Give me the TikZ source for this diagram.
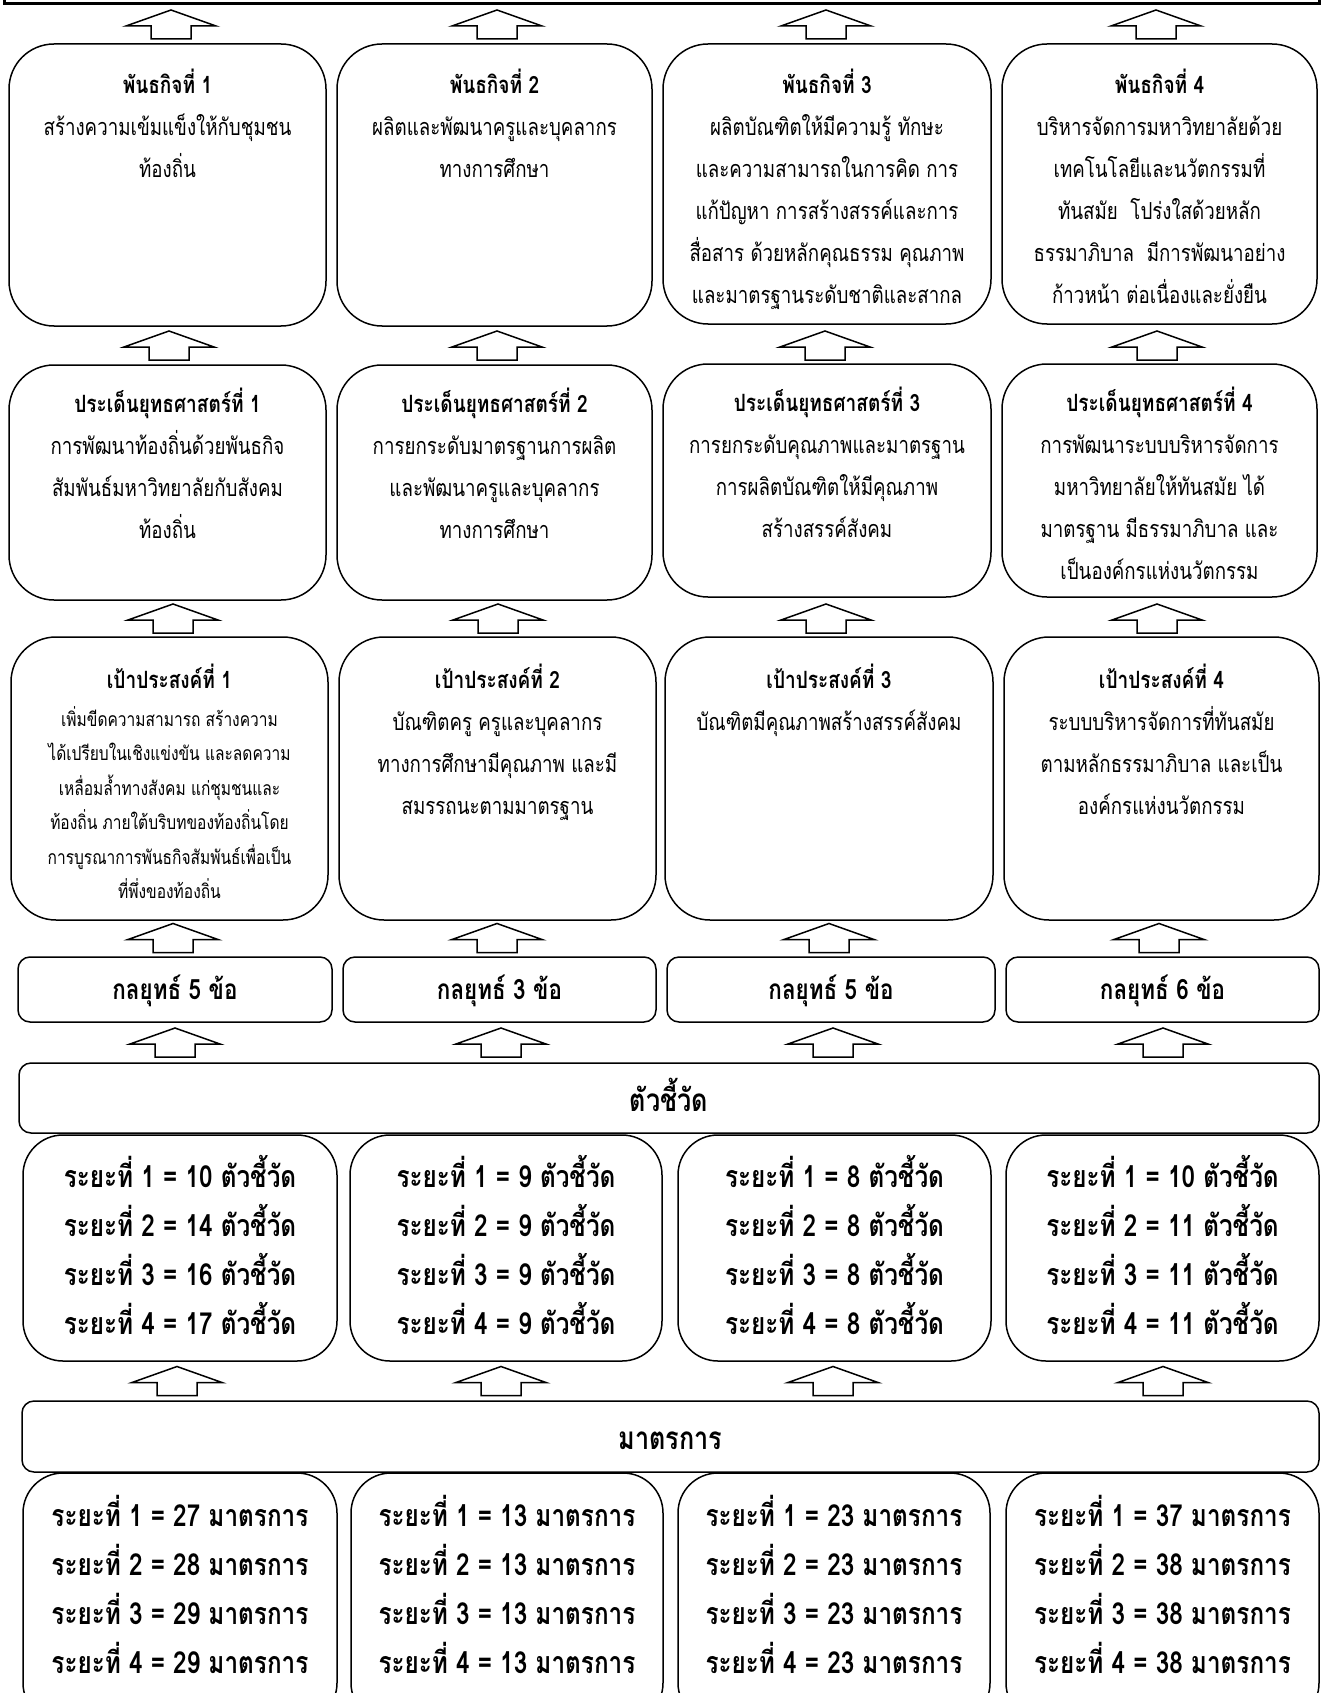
\documentclass[tikz,border=0pt]{standalone}
\usepackage{fontspec}
\setmainfont[Script=Thai, FakeStretch=0.8]{Loma}
\usetikzlibrary{calc}
\newcommand{\bt}[5]{\parbox[c][#2pt][t]{#1pt}{\centering#4\rule{0pt}{#3pt}\ignorespaces#5\par}}
\tikzset{
  bigbox/.style={draw, line width=1.5pt, rounded corners=45pt, inner sep=0pt, outer sep=0pt, anchor=north west},
  midbox/.style={draw, line width=1.5pt, rounded corners=40pt, inner sep=0pt, outer sep=0pt, anchor=north west},
  smallbox/.style={draw, line width=1.5pt, rounded corners=12pt, inner sep=0pt, outer sep=0pt, anchor=north west},
  uparr/.pic={\draw[line width=1.5pt, line join=miter, fill=white]
     (0,-14.5) -- (45,1.5) -- (20,1.5) -- (20,14.5) -- (-20,14.5) -- (-20,1.5) -- (-45,1.5) -- cycle;}
}
\newcommand{\bodyf}{\fontsize{23.4}{42}\selectfont}
\newcommand{\ttl}[1]{{\fontsize{23.8}{42}\selectfont\bfseries #1}}
\newcommand{\smallf}{\fontsize{19.4}{34.5}\selectfont}
\newcommand{\bigf}{\fontsize{30.4}{49}\selectfont\bfseries}
\newcommand{\kf}{\fontsize{28}{40}\selectfont\bfseries}
\newcommand{\banf}{\fontsize{31.5}{40}\selectfont\bfseries}
\begin{document}
\begin{tikzpicture}[x=1pt,y=-1pt]
\useasboundingbox (0,0) rectangle (1320,1693);
% top frame
\node[draw, line width=2.5pt, inner sep=0pt, minimum width=1315pt, minimum height=60pt, anchor=south west] (top) at (3,5) {};
% row 1: missions
\node[bigbox] (m1) at (9,44) {\bt{317}{282}{50}{\bodyf}{\ttl{พันธกิจที่ 1}\\สร้างความเข้มแข็งให้กับชุมชน\\ท้องถิ่น}};
\node[bigbox] (m2) at (337,44) {\bt{315}{282}{50}{\bodyf}{\ttl{พันธกิจที่ 2}\\ผลิตและพัฒนาครูและบุคลากร\\ทางการศึกษา}};
\node[bigbox] (m3) at (663,44) {\bt{328}{280}{50}{\bodyf}{\ttl{พันธกิจที่ 3}\\ผลิตบัณฑิตให้มีความรู้ ทักษะ\\และความสามารถในการคิด การ\\แก้ปัญหา การสร้างสรรค์และการ\\สื่อสาร ด้วยหลักคุณธรรม คุณภาพ\\และมาตรฐานระดับชาติและสากล}};
\node[bigbox] (m4) at (1002,44) {\bt{315}{280}{50}{\bodyf}{\ttl{พันธกิจที่ 4}\\บริหารจัดการมหาวิทยาลัยด้วย\\เทคโนโลยีและนวัตกรรมที่\\ทันสมัย~~โปร่งใสด้วยหลัก\\ธรรมาภิบาล~~มีการพัฒนาอย่าง\\ก้าวหน้า ต่อเนื่องและยั่งยืน}};
% row 2: strategic issues
\node[bigbox] (s1) at (9,365) {\bt{317}{235}{47.5}{\bodyf}{\ttl{ประเด็นยุทธศาสตร์ที่ 1}\\การพัฒนาท้องถิ่นด้วยพันธกิจ\\สัมพันธ์มหาวิทยาลัยกับสังคม\\ท้องถิ่น}};
\node[bigbox] (s2) at (337,365) {\bt{315}{235}{47.5}{\bodyf}{\ttl{ประเด็นยุทธศาสตร์ที่ 2}\\การยกระดับมาตรฐานการผลิต\\และพัฒนาครูและบุคลากร\\ทางการศึกษา}};
\node[bigbox] (s3) at (663,364) {\bt{328}{233}{47.5}{\bodyf}{\ttl{ประเด็นยุทธศาสตร์ที่ 3}\\การยกระดับคุณภาพและมาตรฐาน\\การผลิตบัณฑิตให้มีคุณภาพ\\สร้างสรรค์สังคม}};
\node[bigbox] (s4) at (1002,364) {\bt{315}{233}{47.5}{\bodyf}{\ttl{ประเด็นยุทธศาสตร์ที่ 4}\\การพัฒนาระบบบริหารจัดการ\\มหาวิทยาลัยให้ทันสมัย ได้\\มาตรฐาน มีธรรมาภิบาล และ\\เป็นองค์กรแห่งนวัตกรรม}};
% row 3: goals
\node[bigbox] (g1) at (11,637) {\bt{317}{283}{51.5}{\bodyf}{\ttl{เป้าประสงค์ที่ 1}\par\vspace{3pt}\smallf เพิ่มขีดความสามารถ สร้างความ\\ได้เปรียบในเชิงแข่งขัน และลดความ\\เหลื่อมล้ำทางสังคม แก่ชุมชนและ\\ท้องถิ่น ภายใต้บริบทของท้องถิ่นโดย\\การบูรณาการพันธกิจสัมพันธ์เพื่อเป็น\\ที่พึ่งของท้องถิ่น}};
\node[bigbox] (g2) at (339,637) {\bt{317}{283}{51.5}{\bodyf}{\ttl{เป้าประสงค์ที่ 2}\\บัณฑิตครู ครูและบุคลากร\\ทางการศึกษามีคุณภาพ และมี\\สมรรถนะตามมาตรฐาน}};
\node[bigbox] (g3) at (665,637) {\bt{328}{283}{51.5}{\bodyf}{\ttl{เป้าประสงค์ที่ 3}\\บัณฑิตมีคุณภาพสร้างสรรค์สังคม}};
\node[bigbox] (g4) at (1004,637) {\bt{315}{283}{51.5}{\bodyf}{\ttl{เป้าประสงค์ที่ 4}\\ระบบบริหารจัดการที่ทันสมัย\\ตามหลักธรรมาภิบาล และเป็น\\องค์กรแห่งนวัตกรรม}};
% row 4: strategies
\node[smallbox] (k1) at (18,957) {\bt{314}{65}{42.5}{\kf}{กลยุทธ์ 5 ข้อ}};
\node[smallbox] (k2) at (343,957) {\bt{313}{65}{42.5}{\kf}{กลยุทธ์ 3 ข้อ}};
\node[smallbox] (k3) at (667,957) {\bt{328}{65}{42.5}{\kf}{กลยุทธ์ 5 ข้อ}};
\node[smallbox] (k4) at (1006,957) {\bt{313}{65}{42.5}{\kf}{กลยุทธ์ 6 ข้อ}};
% indicators banner
\node[smallbox] (ind) at (19,1063) {\bt{1300}{70}{48}{\banf}{ตัวชี้วัด}};
% row 5
\node[midbox] (i1) at (23,1135) {\bt{314}{226}{52.5}{\bigf}{ระยะที่ 1 = 10 ตัวชี้วัด\\ระยะที่ 2 = 14 ตัวชี้วัด\\ระยะที่ 3 = 16 ตัวชี้วัด\\ระยะที่ 4 = 17 ตัวชี้วัด}};
\node[midbox] (i2) at (350,1135) {\bt{312}{226}{52.5}{\bigf}{ระยะที่ 1 = 9 ตัวชี้วัด\\ระยะที่ 2 = 9 ตัวชี้วัด\\ระยะที่ 3 = 9 ตัวชี้วัด\\ระยะที่ 4 = 9 ตัวชี้วัด}};
\node[midbox] (i3) at (678,1135) {\bt{313}{226}{52.5}{\bigf}{ระยะที่ 1 = 8 ตัวชี้วัด\\ระยะที่ 2 = 8 ตัวชี้วัด\\ระยะที่ 3 = 8 ตัวชี้วัด\\ระยะที่ 4 = 8 ตัวชี้วัด}};
\node[midbox] (i4) at (1006,1135) {\bt{313}{226}{52.5}{\bigf}{ระยะที่ 1 = 10 ตัวชี้วัด\\ระยะที่ 2 = 11 ตัวชี้วัด\\ระยะที่ 3 = 11 ตัวชี้วัด\\ระยะที่ 4 = 11 ตัวชี้วัด}};
% measures banner
\node[smallbox] (mea) at (22,1401) {\bt{1297}{71}{48}{\banf}{มาตรการ}};
% row 6
\node[midbox] (p1) at (23,1473) {\bt{314}{250}{53.5}{\bigf}{ระยะที่ 1 = 27 มาตรการ\\ระยะที่ 2 = 28 มาตรการ\\ระยะที่ 3 = 29 มาตรการ\\ระยะที่ 4 = 29 มาตรการ}};
\node[midbox] (p2) at (351,1473) {\bt{312}{250}{53.5}{\bigf}{ระยะที่ 1 = 13 มาตรการ\\ระยะที่ 2 = 13 มาตรการ\\ระยะที่ 3 = 13 มาตรการ\\ระยะที่ 4 = 13 มาตรการ}};
\node[midbox] (p3) at (678,1473) {\bt{312}{250}{53.5}{\bigf}{ระยะที่ 1 = 23 มาตรการ\\ระยะที่ 2 = 23 มาตรการ\\ระยะที่ 3 = 23 มาตรการ\\ระยะที่ 4 = 23 มาตรการ}};
\node[midbox] (p4) at (1006,1473) {\bt{313}{250}{53.5}{\bigf}{ระยะที่ 1 = 37 มาตรการ\\ระยะที่ 2 = 38 มาตรการ\\ระยะที่ 3 = 38 มาตรการ\\ระยะที่ 4 = 38 มาตรการ}};
% block arrows
\foreach \x in {171,497,826,1156} \pic at (\x,24.5) {uparr};
\foreach \x in {169,497,825,1157} \pic at (\x,345.5) {uparr};
\foreach \x in {173,498,826,1157} \pic at (\x,618.5) {uparr};
\foreach \x in {173,497,829,1159} \pic at (\x,938) {uparr};
\foreach \x in {175,501,833,1163} \pic at (\x,1042.5) {uparr};
\foreach \x in {177,501,833,1163} \pic at (\x,1381) {uparr};
\end{tikzpicture}
\end{document}
